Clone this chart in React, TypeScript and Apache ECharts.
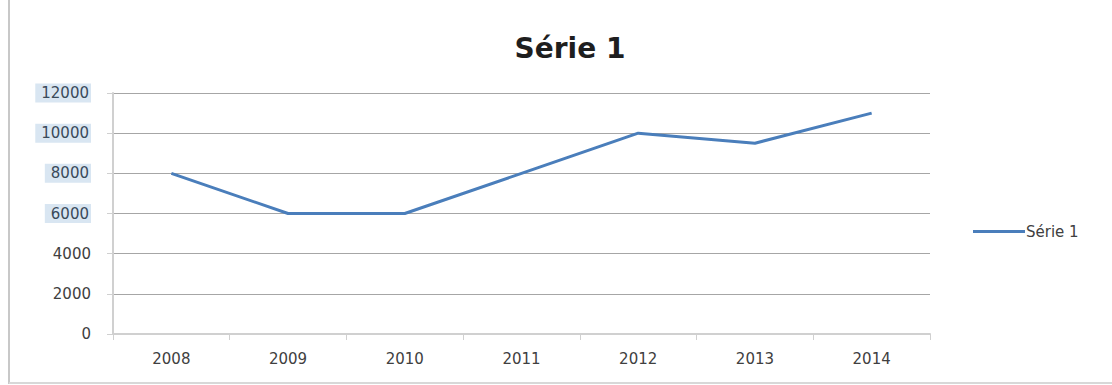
import React, { useEffect, useRef } from "react";
import * as echarts from "echarts";

const categories = ["2008", "2009", "2010", "2011", "2012", "2013", "2014"];
const serieValues = [8000, 6000, 6000, 8000, 10000, 9500, 11000];
const seriesName = "Série 1";
const highlightedTicks = [6000, 8000, 10000, 12000];

const FONT = "DejaVu Sans";

export default function App() {
  const ref = useRef<HTMLDivElement>(null);
  useEffect(() => {
    if (!ref.current) return;
    const chart = echarts.init(ref.current, undefined, { renderer: "svg" });
    chart.setOption({
      animation: false,
      backgroundColor: "#ffffff",
      title: {
        text: seriesName,
        left: 565,
        top: 29,
        textAlign: "center",
        textStyle: { fontFamily: FONT, fontWeight: "bold", fontSize: 28, color: "#1e1e1e" },
      },
      legend: {
        left: 968,
        top: 219,
        itemWidth: 52,
        itemHeight: 3,
        itemGap: 4,
        icon: "rect",
        data: [{ name: seriesName, icon: "rect" }],
        textStyle: { fontFamily: FONT, fontSize: 15, color: "#404040", padding: [0, 0, 0, -4] },
      },
      grid: { left: 113, right: 182, top: 93, bottom: 51 },
      xAxis: {
        type: "category",
        data: categories,
        boundaryGap: true,
        axisLine: { lineStyle: { color: "#d0d0d0", width: 2 } },
        axisTick: { show: true, length: 6, lineStyle: { color: "#d0d0d0" } },
        axisLabel: { fontFamily: FONT, fontSize: 15, color: "#404040", margin: 17 },
      },
      yAxis: {
        type: "value",
        min: 0,
        max: 12000,
        interval: 2000,
        axisLine: { show: true, lineStyle: { color: "#d0d0d0", width: 2 } },
        axisTick: { show: true, length: 6, lineStyle: { color: "#d0d0d0" } },
        splitLine: { lineStyle: { color: "#a6a6a6", width: 1 } },
        axisLabel: {
          fontFamily: FONT,
          fontSize: 15,
          color: "#404040",
          margin: 22,
          formatter: (v: number) => (highlightedTicks.includes(v) ? `{hl|${v}}` : `${v}`),
          rich: {
            hl: {
              fontFamily: FONT,
              fontSize: 15,
              color: "#3a4a5a",
              backgroundColor: "#d9e6f2",
              padding: [2, 2, 2, 6],
            },
          },
        },
      },
      graphic: [
        { type: "line", shape: { x1: 9, y1: 0, x2: 9, y2: 384 }, style: { stroke: "#c8c8c8", lineWidth: 2 } },
        { type: "line", shape: { x1: 9, y1: 383, x2: 1112, y2: 383 }, style: { stroke: "#d8d8d8", lineWidth: 2 } },
      ],
      series: [
        {
          name: seriesName,
          type: "line",
          data: serieValues,
          symbol: "none",
          lineStyle: { color: "#4a7ebb", width: 3 },
          itemStyle: { color: "#4a7ebb" },
        },
      ],
    });
    return () => chart.dispose();
  }, []);
  return <div ref={ref} style={{ position: "fixed", left: 0, top: 0, width: 1112, height: 385 }} />;
}
